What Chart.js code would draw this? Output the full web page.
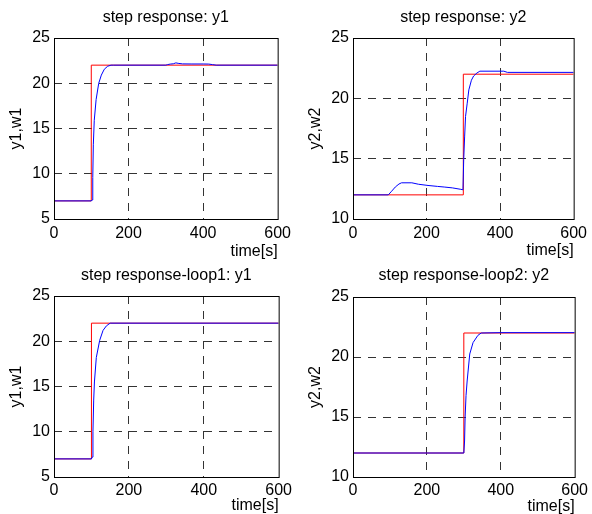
<!DOCTYPE html>
<html>
<head>
<meta charset="utf-8">
<script src="https://cdn.jsdelivr.net/npm/chart.js@4/dist/chart.umd.min.js"></script>
<style>
  html, body { margin: 0; padding: 0; background: #fff; }
  #wrap { position: relative; width: 592px; height: 514px; overflow: hidden; background: #fff; }
  canvas { position: absolute; }
</style>
</head>
<body>
<div id="wrap">
  <canvas id="c1"></canvas>
  <canvas id="c2"></canvas>
  <canvas id="c3"></canvas>
  <canvas id="c4"></canvas>
</div>
<script>
// ---------- data ----------
const titles = ['step response: y1', 'step response: y2', 'step response-loop1: y1', 'step response-loop2: y2'];
const yTitles = ['y1,w1', 'y2,w2', 'y1,w1', 'y2,w2'];
const xTitle = 'time[s]';
const xTicks = [0, 200, 400, 600];
const yTicks1 = [5, 10, 15, 20, 25];
const yTicks2 = [10, 15, 20, 25];

// setpoints (red)
const tW1 = [0, 100, 100, 600];
const w1 = [7, 7, 22, 22];
const tW2 = [0, 300, 300, 600];
const w2 = [12, 12, 22, 22];

// plot 1: step response y1 (blue)
const tY1 = [0, 100, 102, 104, 105.5, 108, 113, 120, 127, 135, 144, 153, 160, 300, 305, 312, 320, 327, 333, 345, 370, 400, 415, 425, 435, 600];
const y1 = [7, 7, 7.1, 9.6, 13.2, 15.9, 18.2, 20.0, 20.9, 21.55, 21.88, 22.0, 22.0, 22.0, 22.06, 22.12, 22.15, 22.25, 22.2, 22.14, 22.13, 22.13, 22.12, 22.06, 22.0, 22.0];

// plot 2: step response y2 (blue)
const tY2 = [0, 96, 105, 115, 125, 132, 160, 178, 204, 230, 248, 270, 293, 299, 301, 303.5, 306, 310.6, 315, 322, 328, 337, 345, 410, 420, 600];
const y2 = [12, 12, 12.3, 12.65, 12.9, 13.0, 13.0, 12.88, 12.78, 12.7, 12.65, 12.58, 12.46, 12.42, 14.9, 16.8, 18.5, 19.6, 20.7, 21.5, 21.85, 22.1, 22.25, 22.25, 22.15, 22.15];

// plot 3: loop1 y1 (blue)
const tY3 = [0, 100, 102, 104, 106, 108, 113, 122, 131, 140, 150, 600];
const y3 = [7, 7, 7.2, 10.0, 13.5, 15.5, 18.2, 20.1, 21.2, 21.7, 22.0, 22.0];

// plot 4: loop2 y2 (blue)
const tY4 = [0, 300, 302, 303.5, 306, 309, 316, 325, 338, 347, 400, 600];
const y4 = [12, 12, 13.0, 15.0, 16.8, 18.0, 20.25, 21.2, 21.8, 22.0, 22.03, 22.03];

// ---------- helpers ----------
function pts(xs, ys) { return xs.map((x, i) => ({ x: x, y: ys[i] })); }

Chart.defaults.font.family = "'Liberation Sans', Arial, Helvetica, sans-serif";
Chart.defaults.font.size = 16;
Chart.defaults.color = '#000';

const boxPlugin = {
  id: 'box',
  afterDraw(chart) {
    const a = chart.chartArea, ctx = chart.ctx;
    ctx.save();
    ctx.strokeStyle = '#000';
    ctx.lineWidth = 1;
    ctx.setLineDash([]);
    ctx.strokeRect(a.left + 0.5, a.top + 0.5, a.right - a.left, a.bottom - a.top);
    ctx.restore();
  }
};

function makeChart(id, L) {
  const cv = document.getElementById(id);
  cv.width = L.w; cv.height = L.h;
  cv.style.left = L.x + 'px'; cv.style.top = L.y + 'px';
  cv.style.width = L.w + 'px'; cv.style.height = L.h + 'px';
  const yT = L.yTicks;
  const yMin = yT[0], yMax = yT[yT.length - 1];
  const xMin = xTicks[0], xMax = xTicks[xTicks.length - 1];
  const gridColor = (ctx) => {
    const v = ctx.tick ? ctx.tick.value : null;
    return '#333';
  };
  return new Chart(cv, {
    type: 'line',
    data: {
      datasets: [
        { data: pts(L.tB, L.yB), borderColor: '#0000ff', borderWidth: 1, pointRadius: 0, tension: 0, fill: false },
        { data: pts(L.tR, L.yR), borderColor: '#ff0000', borderWidth: 1, pointRadius: 0, tension: 0, fill: false }
      ]
    },
    options: {
      responsive: false,
      animation: false,
      devicePixelRatio: 1,
      events: [],
      layout: { padding: { left: 0, right: L.padR, top: 0, bottom: 0 } },
      plugins: {
        legend: { display: false },
        tooltip: { enabled: false },
        title: {
          display: true, text: L.title, fullSize: false,
          font: { size: 16, weight: 'normal', lineHeight: 1.2 },
          padding: { top: L.titleTop - 9.6, bottom: L.areaTop - 19.2 - (L.titleTop - 9.6) }
        }
      },
      scales: {
        x: {
          type: 'linear', min: xMin, max: xMax,
          afterFit: (s) => { s.height = L.h - L.areaBottom; },
          ticks: { stepSize: 200, padding: L.xTickPad, maxRotation: 0, autoSkip: false,
                   font: { size: 16, lineHeight: 1.2 } },
          grid: {
            drawTicks: false,
            lineWidth: 1,
            color: (ctx) => (ctx.tick && (ctx.tick.value === xMin || ctx.tick.value === xMax)) ? 'rgba(0,0,0,0)' : '#333'
          },
          border: { display: false, dash: [8, 7] },
          title: { display: true, text: xTitle, align: 'end',
                   font: { size: 16, lineHeight: 1 }, padding: { top: 0, bottom: L.xTitlePad } }
        },
        y: {
          type: 'linear', min: yMin, max: yMax,
          afterFit: (s) => { s.width = L.areaLeft; },
          ticks: { stepSize: 5, padding: 4, font: { size: 16 } },
          grid: {
            drawTicks: false,
            lineWidth: 1,
            color: (ctx) => (ctx.tick && (ctx.tick.value === yMin || ctx.tick.value === yMax)) ? 'rgba(0,0,0,0)' : '#333'
          },
          border: { display: false, dash: [8, 7] },
          title: { display: true, text: L.yTitle,
                   font: { size: 16, lineHeight: 1.2 }, padding: { top: L.yTitleCenter - 9.6, bottom: 0 } }
        }
      }
    },
    plugins: [boxPlugin]
  });
}

makeChart('c1', { x: 0, y: 0, w: 296, h: 260, areaLeft: 54, padR: 17, areaTop: 38, areaBottom: 219,
  titleTop: 18, xTickPad: 5, xTitlePad: 0.5, yTitleCenter: 16.7,
  title: titles[0], yTitle: yTitles[0], yTicks: yTicks1, tB: tY1, yB: y1, tR: tW1, yR: w1 });
makeChart('c2', { x: 296, y: 0, w: 296, h: 260, areaLeft: 57, padR: 13, areaTop: 38, areaBottom: 219,
  titleTop: 18, xTickPad: 5, xTitlePad: 1, yTitleCenter: 19.3,
  title: titles[1], yTitle: yTitles[1], yTicks: yTicks2, tB: tY2, yB: y2, tR: tW2, yR: w2 });
makeChart('c3', { x: 0, y: 257, w: 296, h: 258, areaLeft: 54, padR: 17, areaTop: 39, areaBottom: 220,
  titleTop: 18.5, xTickPad: 4, xTitlePad: 1.5, yTitleCenter: 16.5,
  title: titles[2], yTitle: yTitles[2], yTicks: yTicks1, tB: tY3, yB: y3, tR: tW1, yR: w1 });
makeChart('c4', { x: 296, y: 257, w: 296, h: 258, areaLeft: 57, padR: 13, areaTop: 40, areaBottom: 220,
  titleTop: 18.5, xTickPad: 4, xTitlePad: 0.5, yTitleCenter: 19.5,
  title: titles[3], yTitle: yTitles[3], yTicks: yTicks2, tB: tY4, yB: y4, tR: tW2, yR: w2 });
</script>
</body>
</html>
